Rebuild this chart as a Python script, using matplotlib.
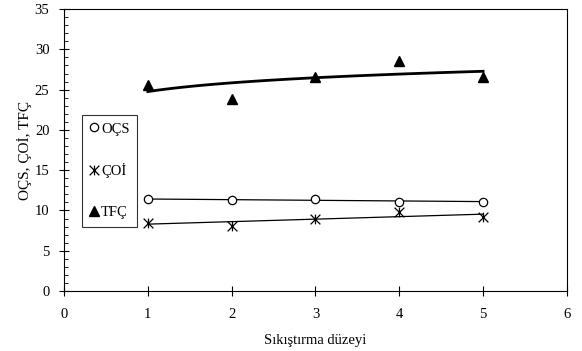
import numpy as np
import matplotlib
matplotlib.use("Agg")
import matplotlib.pyplot as plt
from matplotlib.path import Path
from matplotlib.ticker import MultipleLocator

plt.rcParams['font.family'] = ['Liberation Serif', 'DejaVu Serif']

# data
levels = [1, 2, 3, 4, 5]
ocs = [11.4, 11.3, 11.4, 11.1, 11.1]
coi = [8.5, 8.1, 9.0, 9.8, 9.2]
tfc = [25.6, 23.9, 26.6, 28.6, 26.6]

x = np.array(levels, dtype=float)
xs = np.linspace(1, 5, 100)

# trend lines fitted to the points (linear for OÇS / ÇOİ, log for TFÇ)
p_ocs = np.polyfit(x, ocs, 1)
p_coi = np.polyfit(x, coi, 1)
p_tfc = np.polyfit(np.log(x), tfc, 1)

star = Path([(-1, -1), (1, 1), (-1, 1), (1, -1), (0, -1), (0, 1)],
            [Path.MOVETO, Path.LINETO, Path.MOVETO, Path.LINETO, Path.MOVETO, Path.LINETO])

fig = plt.figure(figsize=(5.82, 3.51), dpi=100)
ax = fig.add_axes([0.110, 0.171, 0.864, 0.803])

ax.plot(xs, np.polyval(p_ocs, xs), color='black', lw=0.9)
ax.plot(xs, np.polyval(p_coi, xs), color='black', lw=0.9)
ax.plot(xs, np.polyval(p_tfc, np.log(xs)), color='black', lw=2.0)

ax.plot(x, ocs, 'o', ms=6, mfc='white', mec='black', mew=0.9, label='OÇS', zorder=3)
ax.plot(x, coi, ls='none', marker=star, ms=7, mec='black', mew=0.9, label='ÇOİ', zorder=3)
ax.plot(x, tfc, '^', ms=7, color='black', label='TFÇ', zorder=3)

ax.set_xlim(0, 6)
ax.set_ylim(0, 35)
ax.xaxis.set_major_locator(MultipleLocator(1))
ax.yaxis.set_major_locator(MultipleLocator(5))
ax.yaxis.set_minor_locator(MultipleLocator(1))
ax.tick_params(axis='x', direction='inout', length=7, width=0.8, labelsize=10.5, pad=9, top=False)
ax.tick_params(axis='y', which='major', direction='inout', length=7, width=0.8, labelsize=10.5,
               pad=7, right=False)
ax.tick_params(axis='y', which='minor', direction='in', length=3, width=0.6, right=False)
for s in ax.spines.values():
    s.set_linewidth(0.8)

ax.set_xlabel('Sıkıştırma düzeyi', fontsize=10.5, labelpad=9)
ax.set_ylabel('OÇS, ÇOİ, TFÇ', fontsize=11, labelpad=2)

leg = ax.legend(loc='upper left', bbox_to_anchor=(0.036, 0.624), fontsize=10.5,
                frameon=True, fancybox=False, edgecolor='black', borderpad=0.5,
                labelspacing=1.9, handlelength=0.6, handletextpad=0.2, borderaxespad=0)
leg.get_frame().set_linewidth(0.8)

fig.savefig('out.png', dpi=100)
